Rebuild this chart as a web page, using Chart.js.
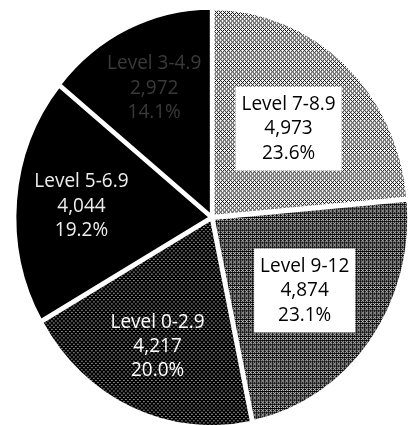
<!DOCTYPE html>
<html>
<head>
<meta charset="utf-8">
<script src="https://cdn.jsdelivr.net/npm/chart.js@4/dist/chart.umd.min.js"></script>
<style>
  body { margin: 0; background: #fff; overflow: hidden; }
  #wrap { width: 412px; height: 425px; }
</style>
</head>
<body>
<div id="wrap"><canvas id="chart"></canvas></div>
<script>
const categories = ['Level 7-8.9', 'Level 9-12', 'Level 0-2.9', 'Level 5-6.9', 'Level 3-4.9'];
const counts = [4973, 4874, 4217, 4044, 2972];

// halftone look: share of white pixels in each slice's dither
const whiteShare = [0.62, 0.32, 0.1, 0, 0];
const labelDist = [0.58, 0.59, 0.68, 0.67, 0.69];
const labelBoxed = [true, true, false, false, false];
const labelColor = ['#000', '#000', '#fff', '#eeeeee', '#3a3a3a'];

// the pie is drawn slightly taller than wide
const stretchY = 1.062;
const shiftY = 5;

const total = counts.reduce((a, b) => a + b, 0);

// 4x4 ordered dither pattern
const bayer = [0, 8, 2, 10, 12, 4, 14, 6, 3, 11, 1, 9, 15, 7, 13, 5];
function dither(share) {
  if (share <= 0) return '#000';
  const c = document.createElement('canvas');
  c.width = 4; c.height = 4;
  const g = c.getContext('2d');
  g.fillStyle = '#000';
  g.fillRect(0, 0, 4, 4);
  g.fillStyle = '#fff';
  for (let i = 0; i < 16; i++) {
    if ((bayer[i] + 0.5) / 16 < share) g.fillRect(i % 4, Math.floor(i / 4), 1, 1);
  }
  return g.createPattern(c, 'repeat');
}

const pieStretch = {
  id: 'pieStretch',
  beforeDatasetsDraw(chart) {
    const ctx = chart.ctx;
    const cy = (chart.chartArea.top + chart.chartArea.bottom) / 2;
    ctx.save();
    ctx.translate(0, cy + shiftY);
    ctx.scale(1, stretchY);
    ctx.translate(0, -cy);
  },
  afterDatasetsDraw(chart) {
    const ctx = chart.ctx;
    const arcs = chart.getDatasetMeta(0).data;
    ctx.font = '19px "Open Sans", sans-serif';
    ctx.textAlign = 'center';
    ctx.textBaseline = 'middle';
    const lh = 23;
    arcs.forEach((arc, i) => {
      const p = arc.getProps(['x', 'y', 'startAngle', 'endAngle', 'outerRadius'], true);
      const mid = (p.startAngle + p.endAngle) / 2;
      const r = p.outerRadius * labelDist[i];
      const cx = p.x + Math.cos(mid) * r;
      const cy = p.y + Math.sin(mid) * r;
      const lines = [
        categories[i],
        counts[i].toLocaleString('en-US'),
        (counts[i] / total * 100).toFixed(1) + '%'
      ];
      if (labelBoxed[i]) {
        const w = Math.max(...lines.map(t => ctx.measureText(t).width)) + 12;
        const h = lh * lines.length + 10;
        ctx.fillStyle = '#fff';
        ctx.fillRect(cx - w / 2, cy - h / 2, w, h);
      }
      ctx.fillStyle = labelColor[i];
      lines.forEach((t, k) => ctx.fillText(t, cx, cy + (k - 1) * lh));
    });
    ctx.restore();
  }
};

new Chart(document.getElementById('chart'), {
  type: 'pie',
  data: {
    labels: categories,
    datasets: [{
      data: counts,
      backgroundColor: whiteShare.map(dither),
      borderColor: '#fff',
      borderWidth: 3,
      offset: 6
    }]
  },
  options: {
    responsive: true,
    maintainAspectRatio: false,
    animation: false,
    layout: { padding: { left: 12, top: 0, right: 0, bottom: 0 } },
    plugins: {
      legend: { display: false },
      tooltip: { enabled: false }
    }
  },
  plugins: [pieStretch]
});
</script>
</body>
</html>
